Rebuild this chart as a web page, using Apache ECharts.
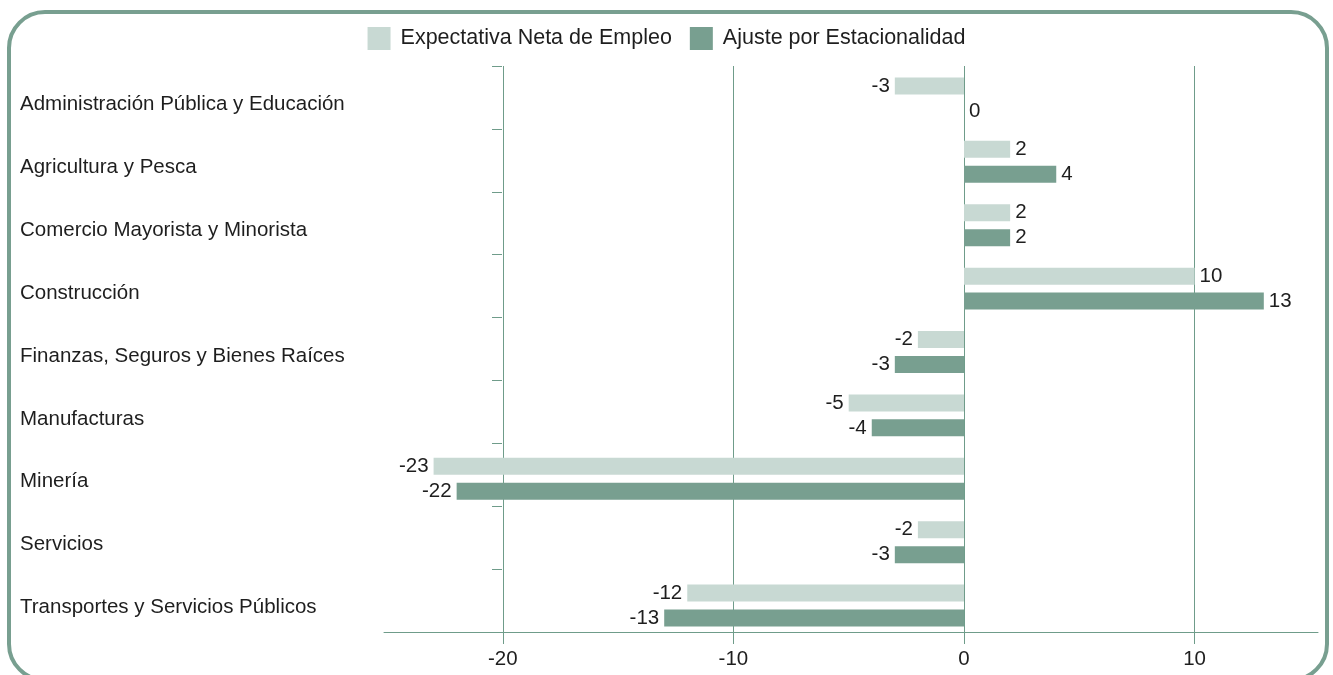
<!DOCTYPE html>
<html>
<head>
<meta charset="utf-8">
<script src="https://cdn.jsdelivr.net/npm/echarts@6/dist/echarts.min.js"></script>
<style>
html,body{margin:0;padding:0;background:#fff;}
#chart{width:1333px;height:675px;}
</style>
</head>
<body>
<div id="chart"></div>
<script>
const categories = [
  'Administración Pública y Educación',
  'Agricultura y Pesca',
  'Comercio Mayorista y Minorista',
  'Construcción',
  'Finanzas, Seguros y Bienes Raíces',
  'Manufacturas',
  'Minería',
  'Servicios',
  'Transportes y Servicios Públicos'
];
const seriesNames = ['Expectativa Neta de Empleo', 'Ajuste por Estacionalidad'];
const expectativa = [-3, 2, 2, 10, -2, -5, -23, -2, -12];
const ajuste = [0, 4, 2, 13, -3, -4, -22, -3, -13];
const xTicks = [-20, -10, 0, 10];

const lightColor = '#c8d9d3';
const darkColor = '#789f90';
const lineColor = '#6f9c8a';
const textColor = '#1e1e1e';
const fontFamily = '"Liberation Sans", Arial, Helvetica, sans-serif';
const xMin = -25.15, xMax = 15.35;

const chart = echarts.init(document.getElementById('chart'), null, {renderer: 'canvas'});

function labelStyle() {
  return {
    show: true,
    fontSize: 20.5,
    fontFamily: fontFamily,
    color: textColor,
    distance: 5,
    formatter: p => String(p.value)
  };
}

function makeData(vals) {
  return vals.map(v => ({
    value: v,
    label: {position: v < 0 ? 'left' : 'right'}
  }));
}

const option = {
  animation: false,
  textStyle: {fontFamily: fontFamily},
  graphic: [{
    type: 'rect',
    shape: {x: 9, y: 12, width: 1318, height: 668, r: 36},
    style: {fill: 'none', stroke: darkColor, lineWidth: 4},
    z: -10
  }],
  legend: {
    data: seriesNames,
    left: 'center',
    top: 22,
    itemWidth: 23,
    itemHeight: 23,
    itemGap: 18,
    icon: 'rect',
    textStyle: {fontSize: 21.5, color: textColor, fontFamily: fontFamily, padding: [0, 0, 0, 5]}
  },
  grid: [
    {left: 384, right: 15, top: 66, bottom: 43, containLabel: false},
    {left: 384, right: 15, top: 66.8, bottom: 37.8, containLabel: false}
  ],
  xAxis: [
    {
      type: 'value',
      gridIndex: 0,
      min: xMin,
      max: xMax,
      axisLine: {show: true, lineStyle: {color: lineColor, width: 1}},
      axisTick: {show: true, length: 12, customValues: xTicks, lineStyle: {color: lineColor}},
      axisLabel: {customValues: xTicks, fontSize: 20.5, color: textColor, margin: 17, fontFamily: fontFamily},
      splitLine: {show: true, lineStyle: {color: lineColor, width: 1}}
    },
    {
      type: 'value',
      gridIndex: 1,
      min: xMin,
      max: xMax,
      show: false,
      splitLine: {show: false}
    }
  ],
  yAxis: [
    {
      type: 'category',
      gridIndex: 0,
      data: categories,
      inverse: true,
      position: 'left',
      offset: -118,
      axisLine: {show: false, onZero: false},
      axisTick: {show: true, length: 10, lineStyle: {color: lineColor}},
      axisLabel: {
        align: 'left',
        margin: 482,
        color: textColor,
        fontFamily: fontFamily,
        fontSize: 20.5,
        formatter: v => '{l|' + v + '}',
        rich: {
          l: {fontSize: 20.5, color: textColor, fontFamily: fontFamily, padding: [14, 0, 0, 0]}
        }
      },
      splitLine: {show: false}
    },
    {
      type: 'category',
      gridIndex: 1,
      data: categories,
      inverse: true,
      show: false,
      axisLine: {onZero: false}
    }
  ],
  series: [
    {
      name: seriesNames[0],
      type: 'bar',
      xAxisIndex: 1,
      yAxisIndex: 1,
      data: makeData(expectativa),
      barWidth: 17,
      barGap: '47%',
      itemStyle: {color: lightColor},
      label: labelStyle()
    },
    {
      name: seriesNames[1],
      type: 'bar',
      xAxisIndex: 1,
      yAxisIndex: 1,
      data: makeData(ajuste),
      barWidth: 17,
      barGap: '47%',
      itemStyle: {color: darkColor},
      label: labelStyle()
    }
  ]
};
chart.setOption(option);
</script>
</body>
</html>
